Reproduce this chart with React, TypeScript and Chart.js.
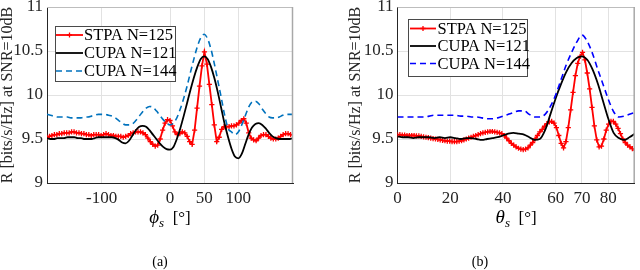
import React, { useEffect, useRef } from "react";
import { Chart, registerables } from "chart.js";

Chart.register(...registerables);

const FONT = "'Liberation Serif', 'Times New Roman', serif";
const TEXT = "#262626";

// ---------- DATA ----------
const seriesLabels = ["STPA N=125", "CUPA N=121", "CUPA N=144"];
const yTicks = [9, 9.5, 10, 10.5, 11];
const phiTicks = [-100, 0, 50, 100];
const thetaTicks = [0, 20, 40, 60, 70, 80];

// (a) sampling grids (sample angles, degrees)
const phiRedStart = -180, phiRedStep = 3.6, phiRedCount = 101;
const phiCupaStart = -180, phiCupaStep = 5, phiCupaCount = 73;

// (a) STPA N=125
const stpaPhi = [
  9.52, 9.53, 9.54, 9.55, 9.55, 9.56, 9.56, 9.57, 9.57, 9.57,
  9.58, 9.58, 9.57, 9.57, 9.56, 9.56, 9.55, 9.55, 9.54, 9.55,
  9.55, 9.55, 9.54, 9.55, 9.56, 9.55, 9.54, 9.54, 9.53, 9.53,
  9.53, 9.52, 9.53, 9.54, 9.56, 9.57, 9.58, 9.58, 9.58, 9.57,
  9.55, 9.51, 9.47, 9.44, 9.42, 9.43, 9.50, 9.60, 9.68, 9.72,
  9.71, 9.65, 9.58, 9.55, 9.56, 9.58, 9.57, 9.53, 9.47, 9.44,
  9.60, 9.85, 10.10, 10.33, 10.49, 10.35, 10.12, 9.89, 9.66, 9.47,
  9.52, 9.61, 9.64, 9.64, 9.64, 9.65, 9.65, 9.66, 9.68, 9.71,
  9.73, 9.68, 9.57, 9.51, 9.49, 9.48, 9.51, 9.54, 9.55, 9.55,
  9.53, 9.51, 9.50, 9.50, 9.51, 9.53, 9.55, 9.56, 9.56, 9.55,
  9.55,
];
// (a) CUPA N=121
const cupa121Phi = [
  9.51, 9.50, 9.50, 9.51, 9.51, 9.51, 9.52, 9.52, 9.52, 9.51,
  9.51, 9.50, 9.50, 9.50, 9.51, 9.52, 9.52, 9.52, 9.52, 9.52,
  9.51, 9.49, 9.46, 9.45, 9.48, 9.54, 9.60, 9.64, 9.65, 9.64,
  9.60, 9.55, 9.50, 9.45, 9.41, 9.385, 9.38, 9.41, 9.50, 9.62,
  9.76, 9.91, 10.06, 10.20, 10.32, 10.41, 10.44, 10.41, 10.32, 10.19,
  10.03, 9.85, 9.67, 9.52, 9.39, 9.30, 9.28, 9.33, 9.44, 9.55,
  9.63, 9.67, 9.68, 9.66, 9.62, 9.57, 9.53, 9.51, 9.50, 9.50,
  9.50, 9.50, 9.51,
];
// (a) CUPA N=144
const cupa144Phi = [
  9.78, 9.77, 9.76, 9.75, 9.75, 9.75, 9.75, 9.74, 9.74, 9.74,
  9.74, 9.75, 9.75, 9.76, 9.77, 9.78, 9.78, 9.78, 9.77, 9.76,
  9.74, 9.71, 9.68, 9.66, 9.66, 9.67, 9.71, 9.76, 9.81, 9.85,
  9.87, 9.86, 9.82, 9.77, 9.72, 9.68, 9.66, 9.68, 9.74, 9.84,
  9.96, 10.10, 10.26, 10.41, 10.55, 10.65, 10.69, 10.64, 10.52, 10.35,
  10.16, 9.97, 9.77, 9.62, 9.58, 9.55, 9.58, 9.66, 9.76, 9.86,
  9.92, 9.93, 9.90, 9.84, 9.79, 9.75, 9.74, 9.74, 9.75, 9.77,
  9.78, 9.78, 9.78,
];

// (b) sampling grids
const thetaRedStart = 0, thetaRedStep = 0.9, thetaRedCount = 101;
const thetaCupaStart = 0, thetaCupaStep = 2, thetaCupaCount = 46;

// (b) STPA N=125
const stpaTheta = [
  9.55, 9.55, 9.545, 9.545, 9.54, 9.54, 9.54, 9.54, 9.535, 9.535,
  9.53, 9.525, 9.52, 9.515, 9.51, 9.505, 9.50, 9.495, 9.49, 9.485,
  9.48, 9.475, 9.475, 9.47, 9.47, 9.47, 9.475, 9.48, 9.49, 9.50,
  9.51, 9.52, 9.53, 9.54, 9.55, 9.56, 9.57, 9.575, 9.58, 9.585,
  9.585, 9.58, 9.575, 9.57, 9.56, 9.54, 9.51, 9.48, 9.45, 9.43,
  9.41, 9.395, 9.385, 9.38, 9.385, 9.40, 9.43, 9.46, 9.50, 9.54,
  9.58, 9.61, 9.645, 9.675, 9.695, 9.70, 9.68, 9.63, 9.54, 9.45,
  9.40, 9.47, 9.63, 9.83, 10.03, 10.22, 10.36, 10.44, 10.485, 10.40,
  10.25, 10.07, 9.86, 9.65, 9.49, 9.41, 9.42, 9.50, 9.60, 9.67,
  9.70, 9.70, 9.67, 9.62, 9.56, 9.50, 9.46, 9.43, 9.41, 9.39,
  9.375,
];
// (b) CUPA N=121
const cupa121Theta = [
  9.53, 9.52, 9.52, 9.51, 9.52, 9.52, 9.52, 9.51, 9.52, 9.51,
  9.52, 9.51, 9.50, 9.51, 9.51, 9.50, 9.49, 9.50, 9.51, 9.52,
  9.54, 9.56, 9.57, 9.56, 9.55, 9.52, 9.49, 9.50, 9.60, 9.78,
  9.96, 10.12, 10.26, 10.36, 10.42, 10.44, 10.40, 10.29, 10.13, 9.93,
  9.73, 9.57, 9.51, 9.49, 9.52, 9.56,
];
// (b) CUPA N=144
const cupa144Theta = [
  9.75, 9.75, 9.75, 9.75, 9.75, 9.75, 9.76, 9.77, 9.77, 9.77,
  9.77, 9.77, 9.76, 9.76, 9.75, 9.75, 9.74, 9.73, 9.73, 9.74,
  9.76, 9.78, 9.80, 9.82, 9.82, 9.78, 9.75, 9.75, 9.78, 9.87,
  10.00, 10.17, 10.34, 10.48, 10.60, 10.68, 10.61, 10.47, 10.29, 10.12,
  9.95, 9.81, 9.75, 9.76, 9.78, 9.80,
];

// ---------- helpers ----------
const grid = (start: number, step: number, n: number) =>
  Array.from({ length: n }, (_, i) => +(start + step * i).toFixed(4));

const pts = (xs: number[], ys: number[]) => ys.map((y, i) => ({ x: xs[i], y }));

const decorPlugin = {
  id: "decor",
  afterDraw(chart: any, _args: any, opts: any) {
    const { ctx, chartArea: a } = chart;
    ctx.save();
    // box (top/right)
    ctx.setLineDash([]);
    ctx.lineWidth = 1;
    ctx.strokeStyle = "#bdbdbd";
    ctx.beginPath();
    ctx.moveTo(a.left, a.top + 0.5);
    ctx.lineTo(a.right, a.top + 0.5);
    ctx.stroke();
    ctx.strokeStyle = "#a8a8a8";
    ctx.lineWidth = 1.5;
    ctx.beginPath();
    ctx.moveTo(a.right - 0.5, a.top);
    ctx.lineTo(a.right - 0.5, a.bottom);
    ctx.stroke();

    // legend
    const L = opts.legend;
    ctx.fillStyle = "#ffffff";
    ctx.fillRect(L.x, L.y, L.w, L.h);
    ctx.strokeStyle = "#4a4a4a";
    ctx.lineWidth = 1;
    ctx.strokeRect(L.x + 0.5, L.y + 0.5, L.w, L.h);
    chart.data.datasets.forEach((ds: any, i: number) => {
      const y = L.rows[i];
      ctx.strokeStyle = ds.borderColor;
      ctx.lineWidth = ds.borderWidth;
      ctx.setLineDash(ds.borderDash || []);
      ctx.beginPath();
      ctx.moveTo(L.x0, y);
      ctx.lineTo(L.x1, y);
      ctx.stroke();
      ctx.setLineDash([]);
      if (ds.pointRadius > 0) {
        const mx = (L.x0 + L.x1) / 2;
        const r = ds.pointRadius;
        ctx.lineWidth = ds.pointBorderWidth;
        ctx.beginPath();
        ctx.moveTo(mx - r, y);
        ctx.lineTo(mx + r, y);
        ctx.moveTo(mx, y - r);
        ctx.lineTo(mx, y + r);
        ctx.stroke();
      }
      ctx.fillStyle = "#000";
      ctx.font = `16.5px ${FONT}`;
      ctx.textBaseline = "middle";
      ctx.textAlign = "left";
      ctx.fillText(ds.label, L.tx, y + 1);
    });

    // x-axis title with subscript
    const T = opts.xTitle;
    const f1 = `italic 19px ${FONT}`;
    const f2 = `italic 13px ${FONT}`;
    const f3 = `17px ${FONT}`;
    ctx.font = f1;
    const w1 = ctx.measureText(T.sym).width;
    ctx.font = f2;
    const w2 = ctx.measureText("s").width;
    ctx.font = f3;
    const w3 = ctx.measureText("  [°]").width;
    const tot = w1 + w2 + w3;
    let x = (a.left + a.right) / 2 - tot / 2;
    ctx.fillStyle = "#000";
    ctx.textBaseline = "alphabetic";
    ctx.textAlign = "left";
    ctx.font = f1;
    ctx.fillText(T.sym, x, T.y);
    x += w1;
    ctx.font = f2;
    ctx.fillText("s", x, T.y + 4);
    x += w2;
    ctx.font = f3;
    ctx.fillText("  [°]", x, T.y);

    // caption
    const C = opts.caption;
    ctx.font = `14px ${FONT}`;
    ctx.textAlign = "center";
    ctx.textBaseline = "middle";
    ctx.fillText(C.text, C.x, C.y);
    ctx.restore();
  },
};

function makeConfig(p: any) {
  const tickFont = { family: FONT, size: 17 };
  return {
    type: "line",
    data: {
      datasets: [
        {
          label: seriesLabels[0],
          data: pts(p.redX, p.red),
          borderColor: "#ff0000",
          backgroundColor: "#ff0000",
          borderWidth: 1.8,
          pointStyle: "cross",
          pointRadius: 2.6,
          pointBorderWidth: 1.3,
          pointBorderColor: "#ff0000",
          tension: 0,
          order: 2,
        },
        {
          label: seriesLabels[1],
          data: pts(p.cupaX, p.black),
          borderColor: "#000000",
          borderWidth: 1.8,
          pointRadius: 0,
          cubicInterpolationMode: "monotone",
          order: 1,
        },
        {
          label: seriesLabels[2],
          data: pts(p.cupaX, p.blue),
          borderColor: p.blueColor,
          borderWidth: 1.6,
          borderDash: [6, 4],
          pointRadius: 0,
          cubicInterpolationMode: "monotone",
          order: 0,
        },
      ],
    },
    options: {
      animation: false,
      responsive: false,
      maintainAspectRatio: false,
      events: [],
      layout: { padding: { left: p.padL, right: p.padR, top: 7, bottom: 0 } },
      plugins: {
        legend: { display: false },
        tooltip: { enabled: false },
        title: { display: false },
        decor: { legend: p.legend, xTitle: p.xTitle, caption: p.caption },
      },
      scales: {
        x: {
          type: "linear",
          min: p.xMin,
          max: p.xMax,
          afterBuildTicks: (s: any) => {
            s.ticks = p.xTicks.map((v: number) => ({ value: v }));
          },
          afterFit: (s: any) => {
            s.height = 87;
            s.paddingLeft = 0;
            s.paddingRight = 0;
          },
          ticks: {
            autoSkip: false,
            maxRotation: 0,
            padding: 5,
            color: TEXT,
            font: tickFont,
            callback: (v: any) => String(v),
          },
          grid: { color: "#e2e2e2", lineWidth: 1, drawTicks: false },
          border: { display: true, color: "#262626", width: 1 },
        },
        y: {
          type: "linear",
          min: 9,
          max: 11,
          afterBuildTicks: (s: any) => {
            s.ticks = yTicks.map((v) => ({ value: v }));
          },
          afterFit: (s: any) => {
            s.width = p.yW;
            s.paddingTop = 0;
            s.paddingBottom = 0;
          },
          ticks: {
            padding: 4,
            color: TEXT,
            font: tickFont,
            callback: (v: any) => String(v),
          },
          grid: { color: "#e2e2e2", lineWidth: 1, drawTicks: false },
          border: { display: true, color: "#262626", width: 1 },
          title: {
            display: true,
            text: "R [bits/s/Hz] at SNR=10dB",
            color: TEXT,
            font: { family: FONT, size: 16, lineHeight: 1 },
            padding: { top: 0, bottom: 0 },
          },
        },
      },
    },
    plugins: [decorPlugin],
  };
}

const panelA = {
  redX: grid(phiRedStart, phiRedStep, phiRedCount),
  cupaX: grid(phiCupaStart, phiCupaStep, phiCupaCount),
  red: stpaPhi,
  black: cupa121Phi,
  blue: cupa144Phi,
  blueColor: "#0072BD",
  xMin: -180,
  xMax: 180,
  xTicks: phiTicks,
  padL: 0,
  padR: 27,
  yW: 47,
  legend: { x: 55, y: 26, w: 120, h: 55, rows: [35, 53, 71], x0: 56, x1: 83, tx: 84 },
  xTitle: { sym: "ϕ", y: 223 },
  caption: { text: "(a)", x: 160, y: 262 },
};

const panelB = {
  redX: grid(thetaRedStart, thetaRedStep, thetaRedCount),
  cupaX: grid(thetaCupaStart, thetaCupaStep, thetaCupaCount),
  red: stpaTheta,
  black: cupa121Theta,
  blue: cupa144Theta,
  blueColor: "#0000FF",
  xMin: 0,
  xMax: 90,
  xTicks: thetaTicks,
  padL: 28,
  padR: 4,
  yW: 49.5,
  legend: { x: 88, y: 19, w: 119, h: 57, rows: [28.5, 46, 63.5], x0: 90, x1: 116, tx: 117.5 },
  xTitle: { sym: "θ", y: 223 },
  caption: { text: "(b)", x: 160, y: 262 },
};

function Panel({ spec, left }: { spec: any; left: number }) {
  const ref = useRef<HTMLCanvasElement | null>(null);
  useEffect(() => {
    if (!ref.current) return;
    const chart = new Chart(ref.current, makeConfig(spec) as any);
    return () => chart.destroy();
  }, [spec]);
  return (
    <canvas
      ref={ref}
      width={320}
      height={270}
      style={{ position: "absolute", left, top: 0, width: 320, height: 270, display: "block" }}
    />
  );
}

export default function App() {
  return (
    <div style={{ position: "absolute", left: 0, top: 0, width: 640, height: 270, background: "#fff" }}>
      <Panel spec={panelA} left={0} />
      <Panel spec={panelB} left={320} />
    </div>
  );
}
